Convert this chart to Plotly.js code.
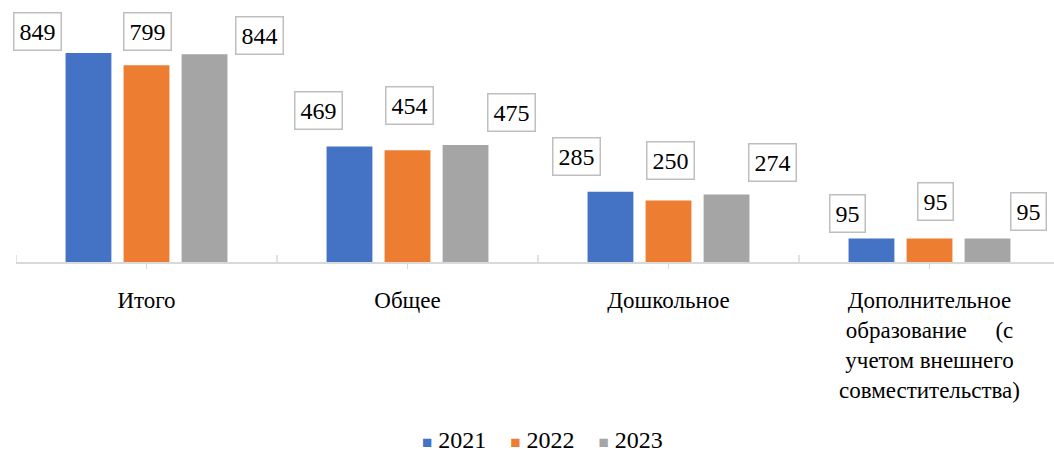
<!DOCTYPE html>
<html>
<head>
<meta charset="utf-8">
<script src="https://cdn.plot.ly/plotly-3.0.1.min.js"></script>
<style>html,body{margin:0;padding:0;background:#fff;overflow:hidden;}</style>
</head>
<body>
<div id="chart" style="width:1054px;height:450px;"></div>
<script>
const categories = ['Итого', 'Общее', 'Дошкольное',
  'Дополнительное<br>образование\u00a0\u00a0\u00a0\u00a0\u00a0(с<br>учетом внешнего<br>совместительства)'];
const seriesNames = ['2021', '2022', '2023'];
const values2021 = [849, 469, 285, 95];
const values2022 = [799, 454, 250, 95];
const values2023 = [844, 475, 274, 95];

const FONT = 'Liberation Serif';
const colors = ['#4472c4', '#ed7d31', '#a5a5a5'];
const allValues = [values2021, values2022, values2023];
// label box centre offsets in pixels, relative to bar top centre [dx, dy]
const labelOffsets = [
  [[-51, 22], [-31, 36], [-34, 35], [-24, 25]],
  [[1, 34], [2, 45], [2, 40], [6, 37]],
  [[55, 19], [46, 33], [46, 32], [41, 27]]
];

const bargap = 0.333;
const xIdx = categories.map((c, i) => i);

const traces = allValues.map((vals, j) => ({
  type: 'bar', name: seriesNames[j], x: xIdx, y: vals,
  marker: {color: colors[j]}, hoverinfo: 'skip', showlegend: false
}));

const slot = (1 - bargap) / 3;
const annotations = [];
allValues.forEach((vals, j) => {
  vals.forEach((v, i) => {
    annotations.push({
      x: i + (j - 1) * slot, y: v, xref: 'x', yref: 'y',
      text: String(v), showarrow: false,
      xanchor: 'center', yanchor: 'middle',
      xshift: labelOffsets[j][i][0], yshift: labelOffsets[j][i][1],
      font: {family: FONT, size: 24, color: '#000'},
      bgcolor: '#ffffff', bordercolor: '#bfbfbf', borderwidth: 1.5, borderpad: 5
    });
  });
});

// legend row built from the series names and colours
const legendText = seriesNames.map((n, j) =>
  '<span style="color:' + colors[j] + ';font-size:17px">■</span>\u00a0' + n
).join('\u00a0\u00a0\u00a0\u00a0');
annotations.push({
  x: 0.507, y: -0.706, xref: 'paper', yref: 'paper', xanchor: 'center', yanchor: 'middle',
  showarrow: false, text: legendText,
  font: {family: FONT, size: 24, color: '#000'}
});

const shapes = [-0.5, 0.5, 1.5, 2.5, 3.5].map(b => ({
  type: 'line', xref: 'x', yref: 'y', x0: b, x1: b,
  ysizemode: 'pixel', yanchor: 0, y0: -7, y1: 7,
  line: {color: '#d9d9d9', width: 1.5}
}));

const layout = {
  width: 1054, height: 450,
  margin: {l: 16, r: 0, t: 10, b: 188, autoexpand: false},
  paper_bgcolor: '#fff', plot_bgcolor: '#fff',
  barmode: 'group', bargap: bargap, bargroupgap: 0.21,
  font: {family: FONT, size: 24, color: '#000'},
  xaxis: {
    range: [-0.5, -0.5 + 1038 / 261],
    tickmode: 'array', tickvals: xIdx, ticktext: categories,
    showline: true, linecolor: '#d9d9d9', linewidth: 1.5,
    ticks: 'outside', ticklen: 5, tickcolor: '#d9d9d9', tickwidth: 1.5,
    tickangle: 0, showgrid: false, zeroline: false, automargin: false,
    ticklabelstandoff: 12,
    tickfont: {family: FONT, size: 23, color: '#000'}
  },
  yaxis: {range: [0, 252 / (209 / 849)], visible: false, showgrid: false, zeroline: false, fixedrange: true},
  showlegend: false,
  annotations: annotations,
  shapes: shapes
};

Plotly.newPlot('chart', traces, layout, {displayModeBar: false, staticPlot: true});
</script>
</body>
</html>
